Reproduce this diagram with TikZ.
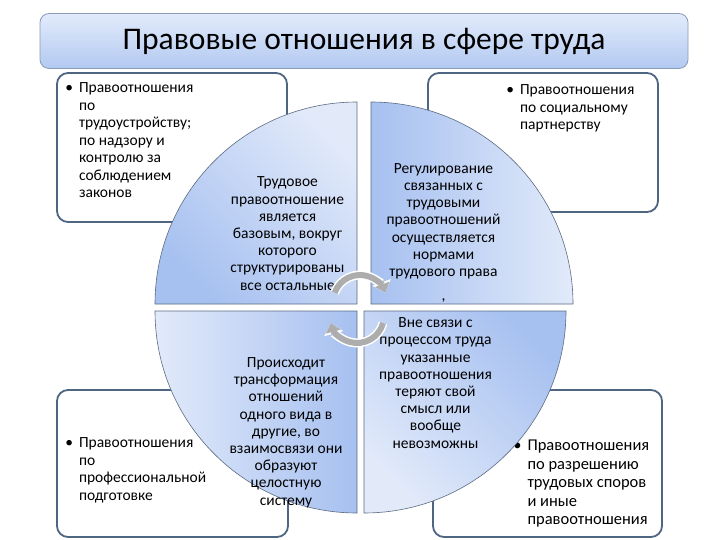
\documentclass[tikz,border=0pt]{standalone}
\usepackage{fontspec}
\setmainfont{Carlito}
\usetikzlibrary{positioning,arrows.meta,calc}

\definecolor{frameblue}{HTML}{4F6683}
\definecolor{edgegray}{HTML}{5C6C82}
\definecolor{titleedge}{HTML}{8A9CB8}
\definecolor{titletop}{HTML}{E2EBFB}
\definecolor{titlebot}{HTML}{B2C9F1}
\definecolor{qdark}{HTML}{A6C0F0}
\definecolor{qlight}{HTML}{E2EAFA}
\definecolor{turngray}{HTML}{ADADAD}

\newcommand{\bullist}[1]{\begin{tabular}{@{}l@{\hspace{6pt}}l@{}}#1\end{tabular}}

\begin{document}
\begin{tikzpicture}[
    x=1pt, y=-1pt,
    every node/.style={inner sep=0pt},
    heading/.style={rectangle,rounded corners=9pt,draw=titleedge,line width=0.8pt,
                    top color=titletop,bottom color=titlebot,
                    minimum width=648pt,minimum height=55pt,
                    font=\fontsize{31.5}{36}\selectfont},
    panel/.style={rectangle,rounded corners=11pt,draw=frameblue,line width=1.8pt,
                  fill=white},
    item/.style={font=\fontsize{15.5}{17.5}\selectfont},
    quad/.style={draw=edgegray,line width=0.6pt,shading=axis},
    qtext/.style={font=\fontsize{15.5}{17.2}\selectfont,align=center},
    turn/.style={line width=6pt,draw=turngray,-{Triangle[length=9pt,width=15pt]}},
    turnrim/.style={line width=9pt,draw=white,-{Triangle[length=11pt,width=19pt]}},
]
    \useasboundingbox[fill=white] (0,0) rectangle (720,540);

    % title bar
    \node[heading] (title) at (364,41) {Правовые отношения в сфере труда};

    % four corner panels
    \node[panel,minimum width=230pt,minimum height=149pt] (tlbox) at (172,147.5) {};
    \node[panel,minimum width=230pt,minimum height=139pt] (trbox) at (543,142.5) {};
    \node[panel,minimum width=231pt,minimum height=147pt] (blbox) at (172.5,463.5) {};
    \node[panel,minimum width=229pt,minimum height=147pt] (brbox) at (547.5,463.5) {};

    \node[item,below right=8.4pt and 9pt of tlbox.north west] (tltext)
        {\bullist{•&Правоотношения\\&по\\&трудоустройству;\\&по надзору и\\&контролю за\\&соблюдением\\&законов}};
    \node[item,below right=10.4pt and 79pt of trbox.north west] (trtext)
        {\bullist{•&Правоотношения\\&по социальному\\&партнерству}};
    \node[item,below right=46.3pt and 9pt of blbox.north west] (bltext)
        {\bullist{•&Правоотношения\\&по\\&профессиональной\\&подготовке}};
    \node[item,font=\fontsize{16.5}{18.5}\selectfont,
          below right=48.6pt and 81pt of brbox.north west] (brtext)
        {\bullist{•&Правоотношения\\&по разрешению\\&трудовых споров\\&и иные\\&правоотношения}};

    % circle split in four
    \draw[quad,top color=qlight,bottom color=qdark,shading angle=-45]
        (357,304) -- (155,304) arc[start angle=180,end angle=270,radius=202] -- cycle;
    \draw[quad,left color=qdark,right color=qlight]
        (371,304) -- (371,102) arc[start angle=270,end angle=360,radius=202] -- cycle;
    \draw[quad,left color=qlight,right color=qdark]
        (357,311) -- (357,513) arc[start angle=90,end angle=180,radius=202] -- cycle;
    \draw[quad,top color=qdark,bottom color=qlight,shading angle=-45]
        (364,311) -- (566,311) arc[start angle=0,end angle=90,radius=202] -- cycle;

    \node[qtext] (tlq) at (287.5,233.5)
        {Трудовое\\правоотношение\\является\\базовым, вокруг\\которого\\структурированы\\все остальные};
    \node[qtext] (trq) at (443.5,233)
        {Регулирование\\связанных с\\трудовыми\\правоотношений\\осуществляется\\нормами\\трудового права\\[7pt],};
    \node[qtext] (blq) at (286,432.5)
        {Происходит\\трансформация\\отношений\\одного вида в\\другие, во\\взаимосвязи они\\образуют\\целостную\\систему};
    \node[qtext] (brq) at (435.5,383)
        {Вне связи с\\процессом труда\\указанные\\правоотношения\\теряют свой\\смысл или\\вообще\\невозможны};

    % turning arrows in the middle
    \draw[turnrim] ($(360,302)+(-160:27)$) arc[start angle=-160,end angle=-20,radius=27];
    \draw[turn]    ($(360,302)+(-160:27)$) arc[start angle=-160,end angle=-20,radius=27];
    \draw[turnrim] ($(357,316)+(15:27)$) arc[start angle=15,end angle=165,radius=27];
    \draw[turn]    ($(357,316)+(15:27)$) arc[start angle=15,end angle=165,radius=27];
\end{tikzpicture}
\end{document}
